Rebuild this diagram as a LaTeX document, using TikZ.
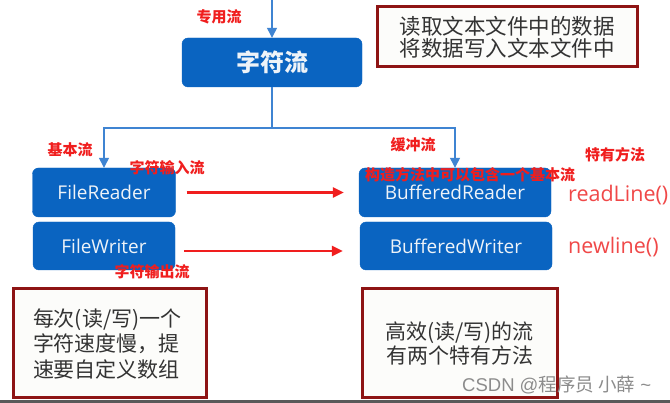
\documentclass[tikz,border=0pt]{standalone}
\usepackage{fontspec}
\setmainfont{Open Sans}
\newfontfamily\cjk{Noto Sans CJK SC}
\newfontfamily\arialf{Liberation Sans}
\usetikzlibrary{arrows.meta,shadows}
\definecolor{boxblue}{HTML}{0A64C1}
\definecolor{lineblue}{HTML}{3F84D2}
\definecolor{labred}{HTML}{F01E1E}
\definecolor{methred}{HTML}{F04848}
\definecolor{notered}{HTML}{8E1414}
\definecolor{notefill}{HTML}{FCFCFA}
\definecolor{notetext}{HTML}{333333}
\definecolor{boxtext}{HTML}{EEF3F8}
\begin{document}
\begin{tikzpicture}[x=1pt,y=-1pt,
  bluebox/.style={draw=boxblue, fill=boxblue, rounded corners=6pt, text=boxtext, inner sep=0pt},
  note/.style={draw=notered, line width=3pt, fill=notefill, inner sep=0pt, text=notetext,
    drop shadow={shadow xshift=1.5pt, shadow yshift=-1.5pt, opacity=0.25}},
  redlab/.style={text=labred, font=\cjk\bfseries\fontsize{15}{18}\selectfont, inner sep=0pt},
  methlab/.style={anchor=west, text=methred, font=\fontsize{21.5}{24}\selectfont, inner sep=0pt},
  conn/.style={draw=lineblue, line width=1.3pt, -{Triangle[length=10pt,width=10pt]}},
  plainconn/.style={draw=lineblue, line width=1.3pt},
  redarrow/.style={draw=labred, line width=2.3pt, -{Triangle[length=11pt,width=10pt]}}]
\useasboundingbox (0,0) rectangle (670,403);
\fill[white] (0,0) rectangle (670,403);

% blue boxes
\node[bluebox, minimum width=180pt, minimum height=49pt, font=\cjk\bfseries\fontsize{24}{28}\selectfont] (zf) at (272,62.5) {字符流};
\node[bluebox, minimum width=143pt, minimum height=49pt, font=\fontsize{19}{22}\selectfont] (fr) at (104,192.5) {FileReader};
\node[bluebox, minimum width=142pt, minimum height=48pt, font=\fontsize{19}{22}\selectfont] (fw) at (104,246) {FileWriter};
\node[bluebox, minimum width=192pt, minimum height=49pt, font=\fontsize{19}{22}\selectfont] (br) at (455,192.5) {BufferedReader};
\node[bluebox, minimum width=192pt, minimum height=48pt, font=\fontsize{19}{22}\selectfont] (bw) at (456,246) {BufferedWriter};

% notes
\node[note, minimum width=260pt, minimum height=60pt, align=center,
  font=\cjk\fontsize{21.5}{22}\selectfont] (tr) at (507,37) {读取文本文件中的数据\\将数据写入文本文件中};
\node[note, minimum width=193pt, minimum height=109pt, text width=153pt, inner xsep=20pt, align=left,
  font=\cjk\fontsize{21}{25.5}\selectfont] (bl) at (109.5,343.5) {每次(读/写)一个\\字符速度慢，提\\速要自定义数组};
\node[note, minimum width=195pt, minimum height=109pt, align=center,
  font=\cjk\fontsize{21}{24}\selectfont] (bm) at (459.5,343.5) {高效(读/写)的流\\有两个特有方法};

% connectors
\coordinate (top) at (272,0);
\coordinate (j) at (272,128);
\draw[conn] (top) -- (zf.north);
\draw[plainconn] (zf.south) -- (j);
\draw[conn] (j) -| (fr.north);
\draw[conn] (j) -| (br.north);

\draw[redarrow, shorten <=11pt, shorten >=15pt] (fr.east) -- (br.west);
\draw[redarrow, shorten <=9pt, shorten >=17pt] ([yshift=-5pt]fw.east) -- ([yshift=-5pt]bw.west);

% red labels
\node[redlab] (l1) at (219,17) {专用流};
\node[redlab] (l2) at (70,150) {基本流};
\node[redlab] (l3) at (413,145) {缓冲流};
\node[redlab] (l4) at (615,155) {特有方法};
\node[redlab] (l5) at (167,168) {字符输入流};
\node[redlab] (l6) at (470,175) {构造方法中可以包含一个基本流};
\node[redlab] (l7) at (152,272) {字符输出流};

\node[methlab] (m1) at (568,195) {readLine()};
\node[methlab] (m2) at (568,247) {newline()};

% watermark
\node[anchor=west, inner sep=0pt, text=black!45, font=\arialf\fontsize{18.5}{20}\selectfont] (wm) at (462,385) {CSDN @{\cjk 程序员 小薛} \textasciitilde};

\fill[black!65] (0,400) rectangle (670,403);
\end{tikzpicture}
\end{document}
